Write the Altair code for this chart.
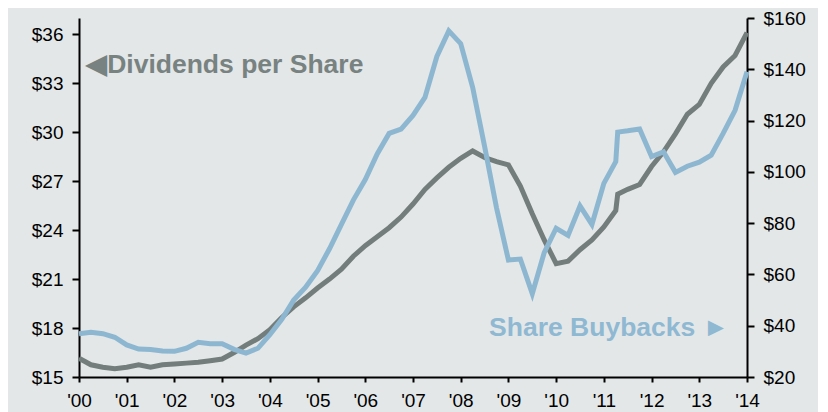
import json
import altair as alt
import pandas as pd

# ---- data ----
quarters = [2000 + i * 0.25 for i in range(57)]
jump_date = 2011.29  # step seen in both series in 2011

dividends = [16.15, 15.75, 15.6, 15.5, 15.6, 15.75, 15.6, 15.75, 15.8, 15.85,
             15.9, 16.0, 16.1, 16.5, 16.95, 17.35, 17.9, 18.65, 19.3, 19.85,
             20.45, 21.0, 21.6, 22.4, 23.05, 23.6, 24.15, 24.8, 25.6, 26.5,
             27.2, 27.85, 28.4, 28.85, 28.45, 28.2, 28.0, 26.7, 25.0, 23.4,
             21.95, 22.1, 22.8, 23.4, 24.2, 25.2, 26.5, 26.8, 27.9, 28.8,
             29.9, 31.1, 31.7, 33.0, 34.0, 34.7, 36.1]
dividends_jump = 26.2

buybacks = [36.9, 37.4, 36.9, 35.5, 32.5, 30.9, 30.7, 30.1, 30.0, 31.2,
            33.5, 33.0, 33.0, 30.8, 29.3, 31.2, 36.5, 42.5, 50.0, 55.0,
            61.5, 70.0, 79.5, 89.0, 97.0, 107.0, 115.0, 116.7, 122.0, 129.0,
            145.0, 155.0, 150.0, 133.0, 110.0, 86.0, 65.6, 66.0, 52.5, 68.5,
            78.0, 75.2, 86.7, 79.5, 95.5, 104.0, 116.0, 116.7, 106.0, 107.8,
            99.8, 102.2, 103.8, 106.5, 115.0, 124.0, 139.0]
buybacks_jump = 115.5

year_ticks = list(range(2000, 2015))
year_labels = ["'00", "'01", "'02", "'03", "'04", "'05", "'06", "'07",
               "'08", "'09", "'10", "'11", "'12", "'13", "'14"]
left_ticks = [15, 18, 21, 24, 27, 30, 33, 36]
right_ticks = [20, 40, 60, 80, 100, 120, 140, 160]

div_label = "◀Dividends per Share"
buy_label = "Share Buybacks ►"
div_label_pos = (2000.15, 34.1)
buy_label_pos = (2013.62, 39.2)

# ---- build tables ----
dates = quarters[:46] + [jump_date] + quarters[46:]
div_vals = dividends[:46] + [dividends_jump] + dividends[46:]
buy_vals = buybacks[:46] + [buybacks_jump] + buybacks[46:]
df = pd.DataFrame({"date": dates, "div": div_vals, "buy": buy_vals})
df_div_lab = pd.DataFrame({"x": [div_label_pos[0]], "y": [div_label_pos[1]], "t": [div_label]})
df_buy_lab = pd.DataFrame({"x": [buy_label_pos[0]], "y": [buy_label_pos[1]], "t": [buy_label]})

FONT = "Liberation Sans"
GRAY = "#737D7C"
BLUE = "#8DB7D1"

x_scale = alt.Scale(domain=[2000, 2014], nice=False, zero=False)
x_axis = alt.Axis(values=year_ticks, labelExpr=f"{json.dumps(year_labels)}[datum.value - 2000]",
                  title=None, grid=False, domainColor="black", domainWidth=2,
                  tickColor="black", tickWidth=2, tickSize=5, labelPadding=9,
                  labelFont=FONT, labelFontSize=19, labelColor="black", labelFlush=False)
left_scale = alt.Scale(domain=[15, 37], nice=False, zero=False)
right_scale = alt.Scale(domain=[20, 160], nice=False, zero=False)

common_axis = dict(title=None, grid=False, domainColor="black", domainWidth=2,
                   tickColor="black", tickWidth=2, tickSize=7, labelPadding=9,
                   labelFont=FONT, labelFontSize=19, labelColor="black")

div_line = alt.Chart(df).mark_line(color=GRAY, strokeWidth=5).encode(
    x=alt.X("date:Q", scale=x_scale, axis=x_axis),
    y=alt.Y("div:Q", scale=left_scale,
            axis=alt.Axis(values=left_ticks, labelExpr="'$' + datum.value", orient="left", **common_axis)),
)
buy_line = alt.Chart(df).mark_line(color=BLUE, strokeWidth=5).encode(
    x=alt.X("date:Q", scale=x_scale, axis=x_axis),
    y=alt.Y("buy:Q", scale=right_scale,
            axis=alt.Axis(values=right_ticks, labelExpr="'$' + datum.value", orient="right", **common_axis)),
)
div_text = alt.Chart(df_div_lab).mark_text(
    align="left", baseline="middle", font=FONT, fontSize=26.5, fontWeight="bold", color="#788281"
).encode(
    x=alt.X("x:Q", scale=x_scale, axis=x_axis),
    y=alt.Y("y:Q", scale=left_scale, axis=None),
    text="t:N",
)
buy_text = alt.Chart(df_buy_lab).mark_text(
    align="right", baseline="middle", font=FONT, fontSize=26.5, fontWeight="bold", color="#8FB8D2"
).encode(
    x=alt.X("x:Q", scale=x_scale, axis=x_axis),
    y=alt.Y("y:Q", scale=right_scale, axis=None),
    text="t:N",
)

chart = alt.layer(div_line, div_text, buy_text, buy_line).resolve_scale(
    y="independent"
).properties(
    width=668, height=359,
    padding={"left": 71, "top": 10, "right": 71, "bottom": 43},
    autosize=alt.AutoSizeParams(type="none"),
    background="#E3E7E8",
).configure_view(stroke=None)

chart.save("out.html", embed_options={"renderer": "svg", "actions": False})
